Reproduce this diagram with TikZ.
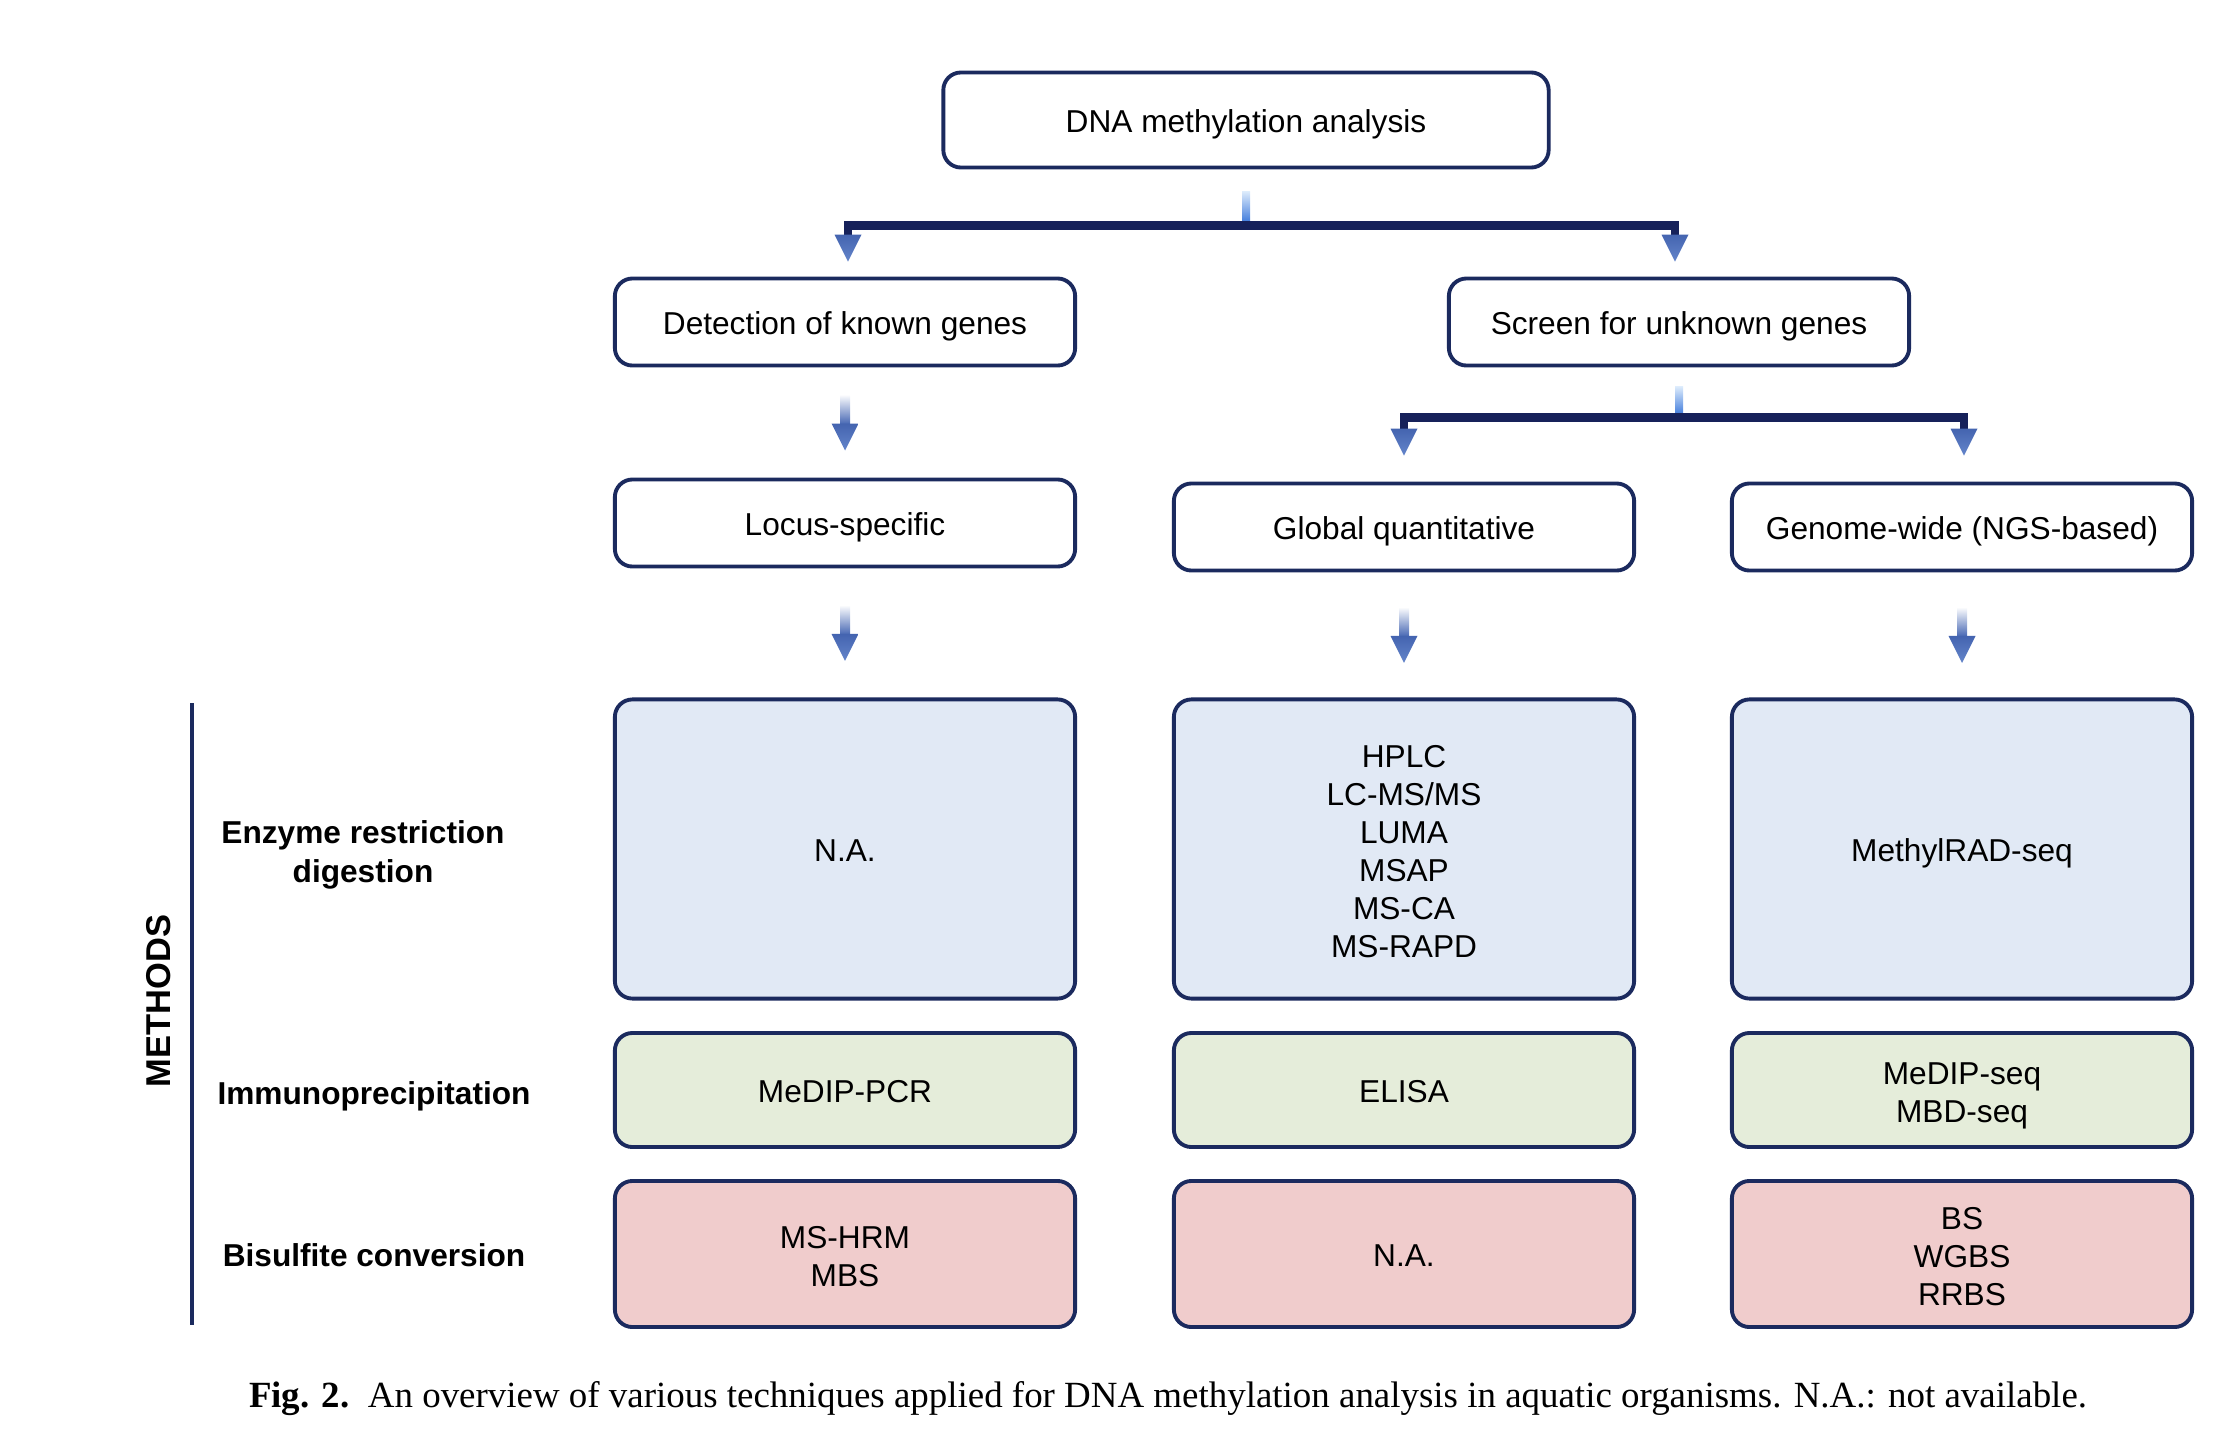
\documentclass[tikz,border=0pt]{standalone}
\usepackage{fontspec}
\setmainfont{Liberation Sans}
\newfontfamily\capfont{Liberation Serif}
\usetikzlibrary{calc}

\definecolor{navy}{HTML}{1B2A5E}
\definecolor{barnavy}{HTML}{16215A}
\definecolor{enzfill}{HTML}{E1E9F5}
\definecolor{immfill}{HTML}{E5EDDA}
\definecolor{bisfill}{HTML}{F0CCCC}
\definecolor{headtop}{HTML}{4464B0}
\definecolor{headbot}{HTML}{6485CA}
\definecolor{shaftblue}{HTML}{4A6AB5}
\definecolor{stemtop}{HTML}{DCEBFC}
\definecolor{stembot}{HTML}{2F6FD8}

% lift the first line of a multi-line text
\newcommand{\boxtop}{\rule{0pt}{1.06em}}

\tikzset{
  evenlines/.style={execute at begin node={\rule{0pt}{1.02em}},
    execute at end node={\rule[-0.22em]{0pt}{0.22em}}},
  box/.style={draw=navy, line width=1.1pt, rounded corners=5pt, fill=white,
    align=center, inner sep=0pt, font=\fontsize{9}{10.8}\selectfont, evenlines},
  qbox/.style={box, minimum width=4.6cm, minimum height=0.87cm},
  enzbox/.style={box, fill=enzfill, minimum width=4.6cm, minimum height=2.99cm},
  immbox/.style={box, fill=immfill, minimum width=4.6cm, minimum height=1.14cm},
  bisbox/.style={box, fill=bisfill, minimum width=4.6cm, minimum height=1.46cm},
  rowlabel/.style={align=center, inner sep=0pt, font=\fontsize{9}{11}\selectfont\bfseries, evenlines},
  bar/.style={draw=barnavy, line width=2.5pt, line join=miter}
}

% gradient arrow head, #1 = middle of its base
\newcommand{\headat}[1]{%
  \shade[top color=headtop, bottom color=headbot]
    ($(#1)+(-13.5,0)$) -- ($(#1)+(13.5,0)$) -- ($(#1)+(0,27)$) -- cycle;}

\begin{document}
\begin{tikzpicture}[x=0.01cm, y=-0.01cm]
  \useasboundingbox (0,0) rectangle (2232,1445);

  % question boxes
  \node[box, minimum width=6.05cm, minimum height=0.95cm] (top) at (1246,120) {DNA methylation analysis};
  \node[qbox] (det) at (845,322) {Detection of known genes};
  \node[qbox] (scr) at (1679,322) {Screen for unknown genes};
  \node[qbox] (loc) at (845,523) {Locus-specific};
  \node[qbox] (glo) at (1404,527) {Global quantitative};
  \node[qbox] (gen) at (1962,527) {Genome-wide (NGS-based)};

  % method boxes
  \node[enzbox] (enz1) at (845,849) {N.A.};
  \node[enzbox] (enz2) at (1404,849) {\boxtop HPLC\\LC-MS/MS\\LUMA\\MSAP\\MS-CA\\MS-RAPD};
  \node[enzbox] (enz3) at (1962,849) {MethylRAD-seq};
  \node[immbox] (imm1) at (845,1090) {MeDIP-PCR};
  \node[immbox] (imm2) at (1404,1090) {ELISA};
  \node[immbox] (imm3) at (1962,1090) {\boxtop MeDIP-seq\\MBD-seq};
  \node[bisbox] (bis1) at (845,1254) {\boxtop MS-HRM\\MBS};
  \node[bisbox] (bis2) at (1404,1254) {N.A.};
  \node[bisbox] (bis3) at (1962,1254) {\boxtop BS\\WGBS\\RRBS};

  % row labels
  \node[rowlabel] (enzlab) at (363,850) {\boxtop Enzyme restriction\\digestion};
  \node[rowlabel] (immlab) at (374,1092) {Immunoprecipitation};
  \node[rowlabel] (bislab) at (374,1254) {Bisulfite conversion};
  \node[rotate=90, inner sep=0pt, font=\fontsize{9.8}{12}\selectfont\bfseries] (meth) at (159,1001) {METHODS};
  \coordinate (vtop) at (192,703);
  \coordinate (vbot) at (192,1325);
  \draw[navy, line width=1.1pt] (vtop) -- (vbot);

  % first split
  \coordinate (j1) at ($(top.south)+(0,56)$);
  \shade[top color=stemtop, bottom color=stembot] ($(top.south)+(-4,22)$) rectangle ($(j1)+(4,0)$);
  \draw[bar] ($(det.north)+(3,-42)$) |- (j1) -| ($(scr.north)+(-4,-42)$);
  \headat{$(det.north)+(3,-42)$}
  \headat{$(scr.north)+(-4,-42)$}

  % second split
  \coordinate (j2) at ($(scr.south)+(0,50)$);
  \shade[top color=stemtop, bottom color=stembot] ($(scr.south)+(-4,19)$) rectangle ($(j2)+(4,0)$);
  \draw[bar] ($(glo.north)+(0,-53)$) |- (j2) -| ($(gen.north)+(2,-53)$);
  \headat{$(glo.north)+(0,-53)$}
  \headat{$(gen.north)+(2,-53)$}

  % short arrows
  \foreach \a/\b in {det/loc, loc/enz1, glo/enz2, gen/enz3} {
    \coordinate (m) at ($(\a.south)!0.5!(\b.north)$);
    \shade[top color=white, bottom color=shaftblue] ($(m)+(-5,-28)$) rectangle ($(m)+(5,1)$);
    \headat{$(m)+(0,1)$}
  }

  % caption
  \node[font=\capfont\fontsize{10.5}{12}\selectfont] (cap) at (1168,1399)
    {\textbf{Fig. 2.}\enspace An overview of various techniques applied for DNA methylation analysis in aquatic organisms. N.A.: not available.};
\end{tikzpicture}
\end{document}
